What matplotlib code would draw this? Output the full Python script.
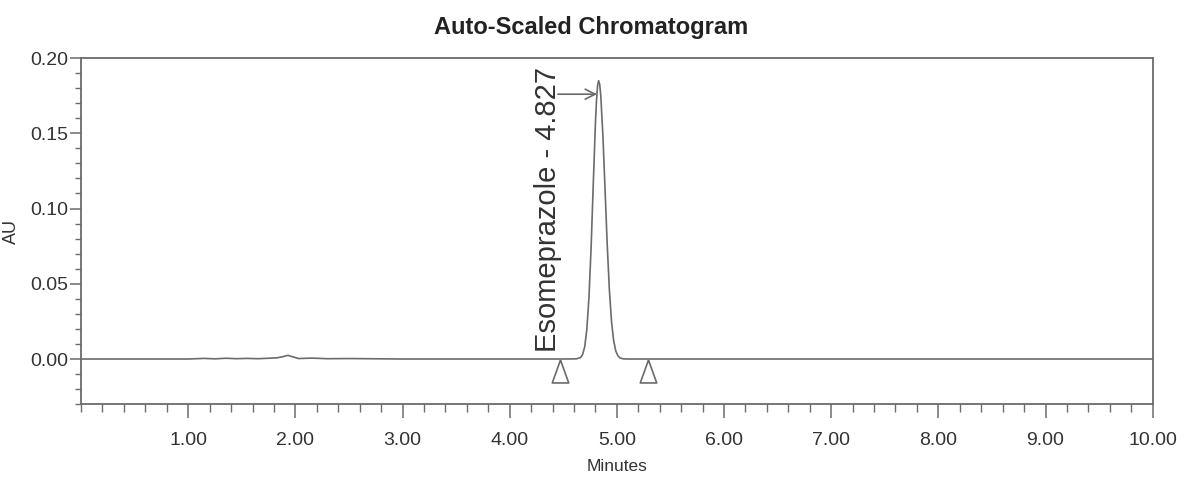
import matplotlib
matplotlib.use("Agg")
from matplotlib import pyplot as plt
from matplotlib.ticker import MultipleLocator, FormatStrFormatter

plt.rcParams['font.family'] = ['Liberation Sans', 'DejaVu Sans']

# trace (minutes, AU)
minutes = [0.00, 1.00, 1.15, 1.25, 1.35, 1.45, 1.55, 1.65, 1.75, 1.83, 1.88,
           1.93, 1.98, 2.03, 2.15, 2.30, 2.50, 3.00, 4.00, 4.50, 4.62,
           4.66, 4.68, 4.70, 4.72, 4.74, 4.76, 4.78, 4.80, 4.81, 4.82,
           4.83, 4.84, 4.85, 4.87, 4.89, 4.91, 4.93, 4.95, 4.97, 4.99,
           5.01, 5.03, 5.06, 5.10, 6.00, 8.00, 10.00]
absorbance = [0.0000, 0.0000, 0.0004, 0.0001, 0.0005, 0.0002, 0.0004, 0.0002, 0.0005, 0.0008, 0.0015,
              0.0024, 0.0014, 0.0003, 0.0006, 0.0002, 0.0003, 0.0000, 0.0000, 0.0000, 0.0001,
              0.0009, 0.0029, 0.0081, 0.0198, 0.0414, 0.0747, 0.1166, 0.1567, 0.1718, 0.1816,
              0.1850, 0.1824, 0.1750, 0.1481, 0.1122, 0.0761, 0.0461, 0.0250, 0.0122, 0.0053,
              0.0021, 0.0007, 0.0001, 0.0000, 0.0000, 0.0000, 0.0000]

peak_name = "Esomeprazole"
peak_rt = 4.827
peak_bounds = [4.47, 5.29]

grey = "#6b6b6b"

fig = plt.figure(figsize=(11.92, 4.84), dpi=100)
ax = fig.add_axes([0.068, 0.165, 0.899, 0.715])

ax.plot(minutes, absorbance, color=grey, lw=1.2)

# peak start / end markers (tall open triangles)
tri = [(0, 1), (-0.72, -1), (0.72, -1), (0, 1)]
ax.plot(peak_bounds, [-0.0078] * len(peak_bounds), ls="none", marker=tri,
        markersize=16.5, markerfacecolor="white", markeredgecolor=grey, mew=1.2)

ax.text(4.36, 0.0045, f"{peak_name} - {peak_rt:.3f}", rotation=90,
        ha="center", va="bottom", fontsize=21, color="#333333")
ax.annotate("", xy=(4.815, 0.176), xytext=(4.45, 0.176),
            arrowprops=dict(arrowstyle="->", color=grey, lw=1.2,
                            mutation_scale=18, shrinkA=0, shrinkB=0))

ax.set_xlim(0, 10)
ax.set_ylim(-0.03, 0.20)
ax.xaxis.set_minor_locator(MultipleLocator(0.2))
ax.yaxis.set_minor_locator(MultipleLocator(0.01))
ax.xaxis.set_major_formatter(FormatStrFormatter("%.2f"))
ax.yaxis.set_major_formatter(FormatStrFormatter("%.2f"))
ax.set_xticks([t for t in range(1, 11)])
ax.set_yticks([0.0, 0.05, 0.10, 0.15, 0.20])

ax.tick_params(axis="x", which="major", length=10, width=1.1, color=grey,
               labelsize=14, pad=10, labelcolor="#333333")
ax.tick_params(axis="x", which="minor", length=6, width=1.0, color=grey)
ax.tick_params(axis="y", which="major", length=8, width=1.1, color=grey,
               labelsize=14, pad=1, labelcolor="#333333")
ax.tick_params(axis="y", which="minor", length=4, width=1.0, color=grey)

for s in ax.spines.values():
    s.set_color(grey)
    s.set_linewidth(1.3)

ax.set_xlabel("Minutes", fontsize=12.5, color="#333333", labelpad=7)
ax.set_ylabel("AU", fontsize=13, color="#333333")
ax.yaxis.set_label_coords(-0.057, 0.5)
fig.text(0.496, 0.943, "Auto-Scaled Chromatogram", ha="center", va="center",
         fontsize=17, fontweight="bold", color="#222222")

fig.savefig("out.png", dpi=100)
